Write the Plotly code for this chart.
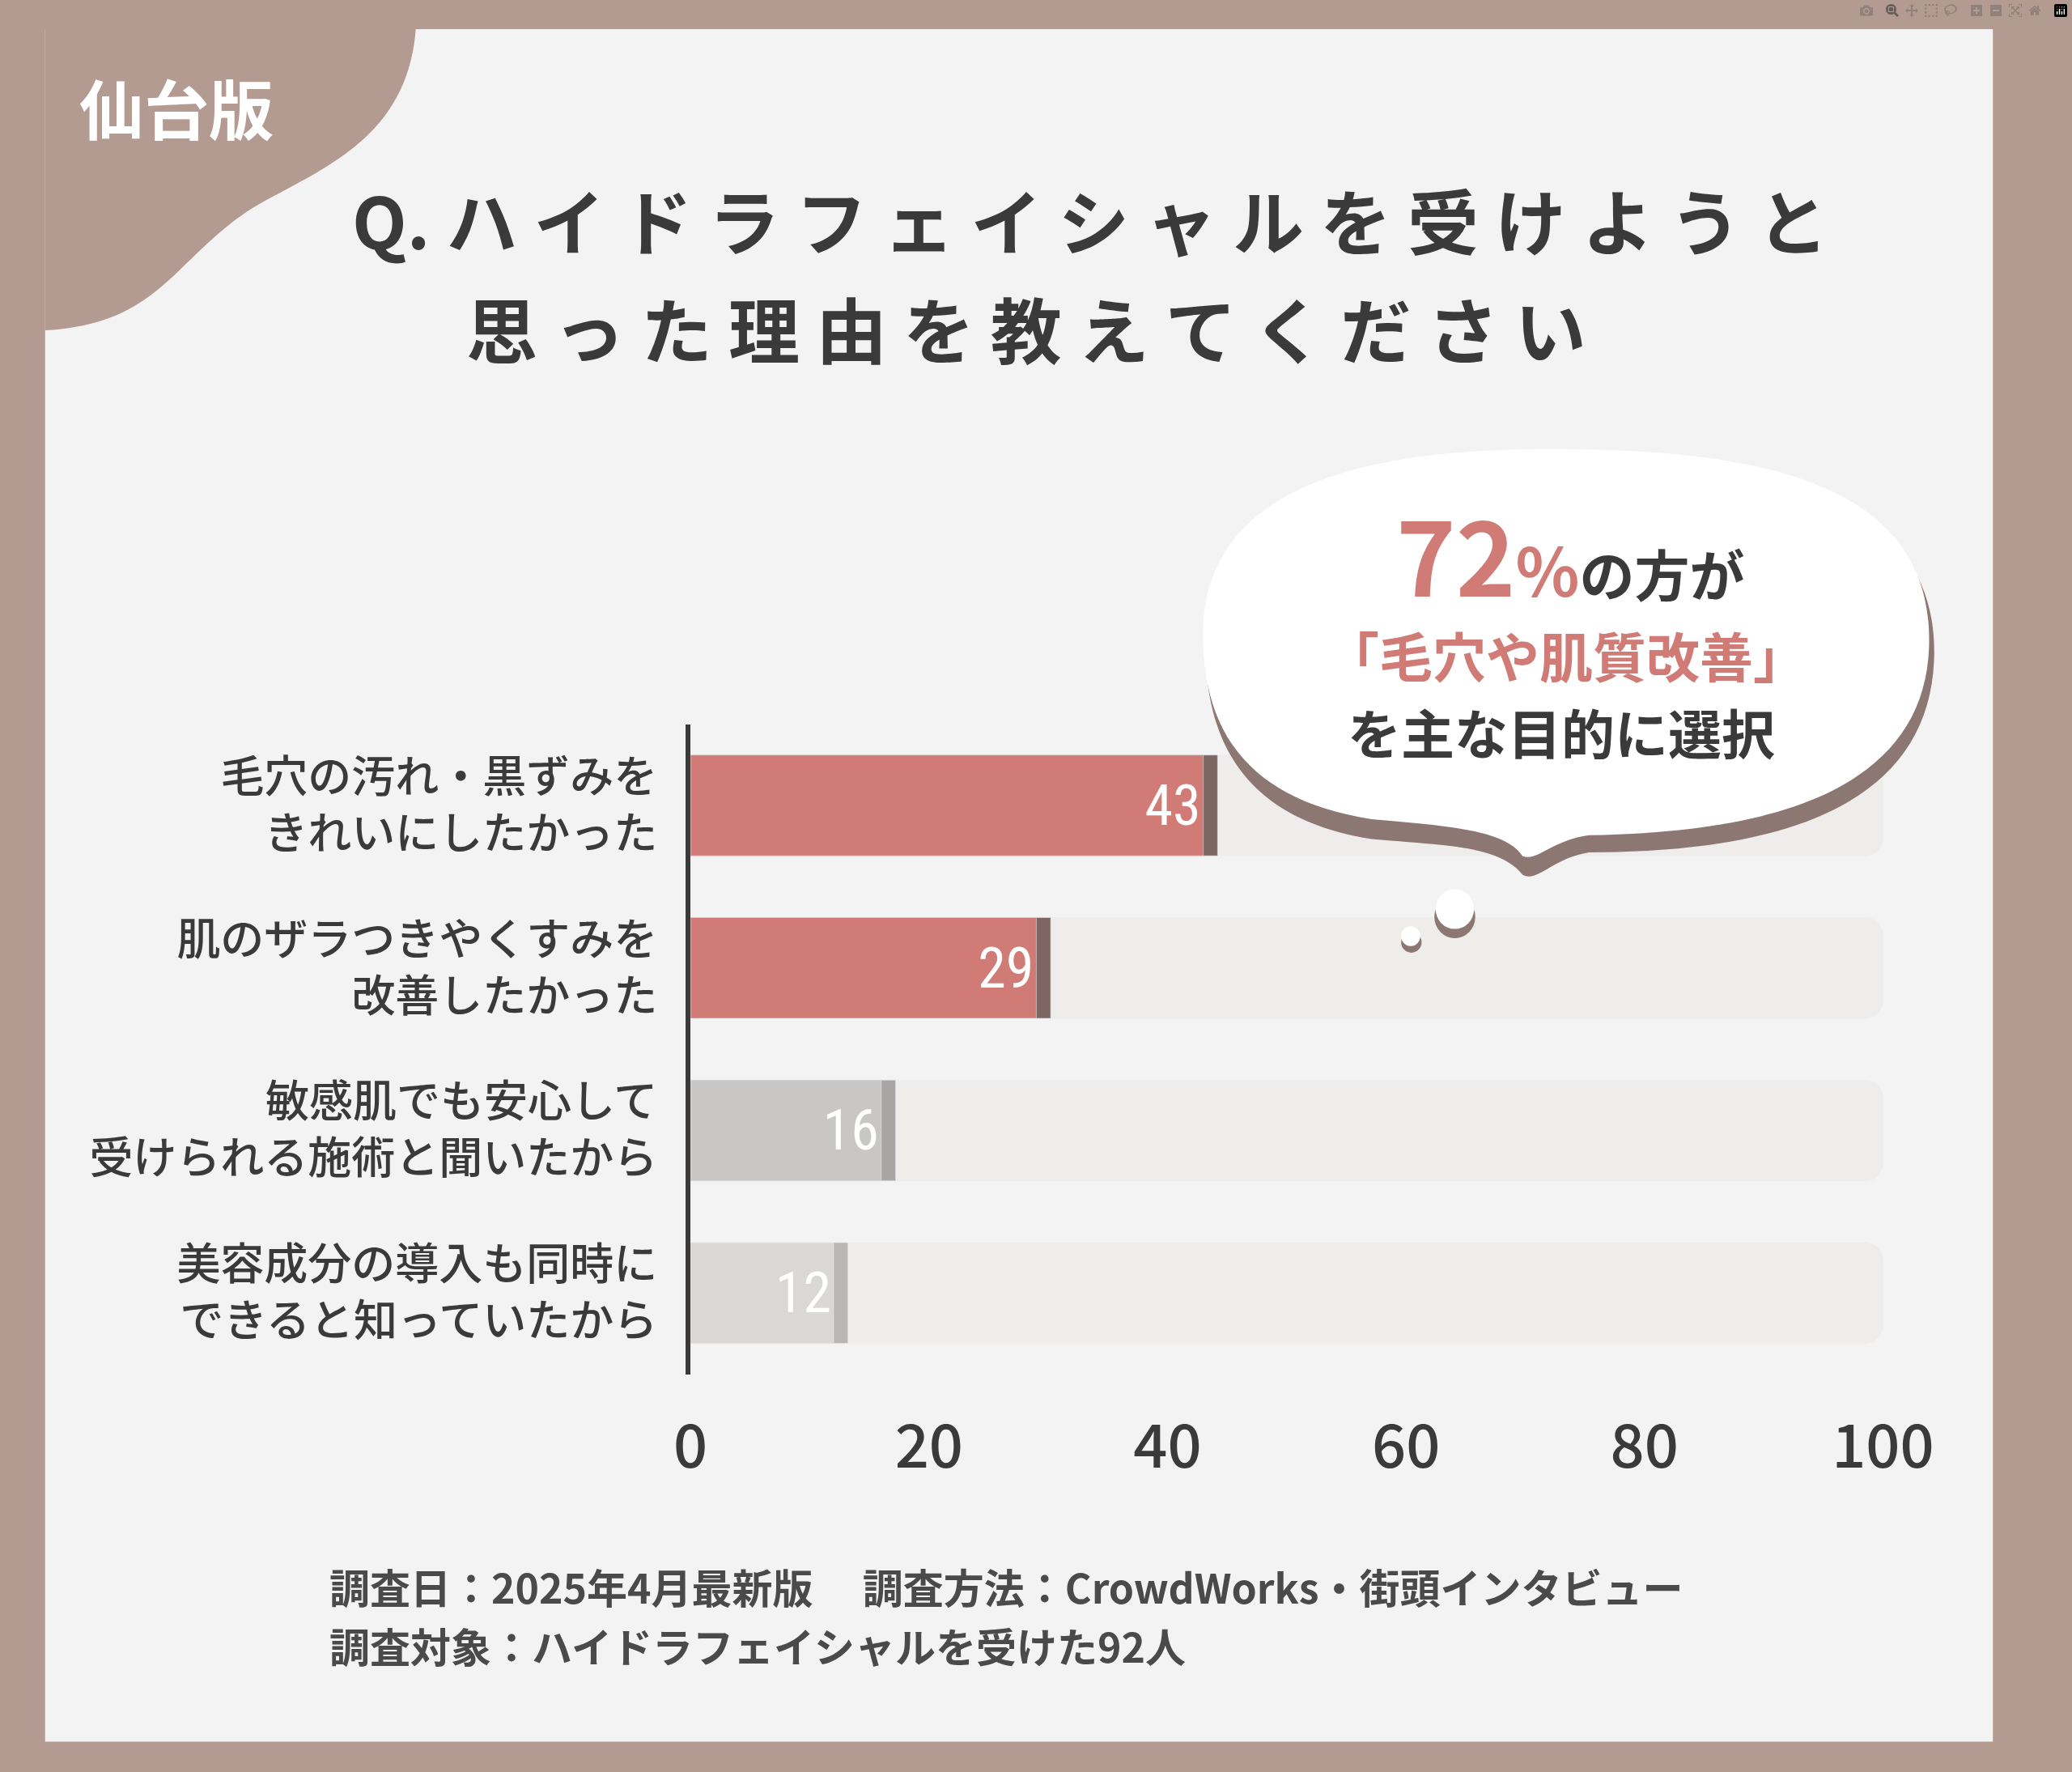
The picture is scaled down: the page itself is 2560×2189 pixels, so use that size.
import plotly.graph_objects as go

categories = [
    "毛穴の汚れ・黒ずみを<br>きれいにしたかった",
    "肌のザラつきやくすみを<br>改善したかった",
    "敏感肌でも安心して<br>受けられる施術と聞いたから",
    "美容成分の導入も同時に<br>できると知っていたから",
]
values = [43, 29, 16, 12]
bar_colors = ["#D07B76", "#D07B76", "#C9C7C6", "#D9D8D7"]
shadow_colors = ["#7E6763", "#7E6763", "#A8A5A4", "#B9B7B6"]
full_scale = [100, 100, 100, 100]
x_ticks = [0, 20, 40, 60, 80, 100]

W, H = 2560, 2189
SW, SH = 1568, 1341  # reference design units
FONT = "Noto Sans CJK JP"


def px(x):
    return x / SW


def py(y):
    return 1 - y / SH


def path(points):
    s = ""
    for cmd, *pts in points:
        s += cmd + " " + " ".join(f"{px(a):.4f},{py(b):.4f}" for a, b in zip(pts[::2], pts[1::2])) + " "
    return s + "Z"


fig = go.Figure()
fig.add_trace(go.Bar(y=categories, x=full_scale, orientation="h", marker=dict(color="#EFEDEC", cornerradius=22),
                     width=0.62, hoverinfo="skip"))
fig.add_trace(go.Bar(y=categories, x=[v + 1.2 for v in values], orientation="h",
                     marker=dict(color=shadow_colors, cornerradius=22), width=0.62, hoverinfo="skip"))
fig.add_trace(go.Bar(y=categories, x=values, orientation="h", marker=dict(color=bar_colors, cornerradius=22),
                     width=0.62, text=[str(v) for v in values], textposition="inside",
                     insidetextanchor="end", textfont=dict(color="white", size=70, family="Roboto Condensed, Roboto"),
                     cliponaxis=False))

shapes = [
    dict(type="rect", xref="paper", yref="paper", x0=px(22), x1=px(1546), y0=py(1318), y1=py(22),
         fillcolor="#F4F3F3", line_width=0, layer="below"),
    dict(type="path", xref="paper", yref="paper", layer="below", fillcolor="#B39B92", line_width=0,
         path=path([("M", 22, 22), ("L", 312, 22), ("C", 305, 110, 230, 130, 180, 160),
                    ("C", 120, 200, 110, 245, 22, 250)])),
    # bubble shadow + bubble
    dict(type="path", xref="paper", yref="paper", layer="above", fillcolor="#8C7772", line_width=0,
         path=path([("M", 930, 490), ("C", 930, 360, 1100, 345, 1220, 348), ("C", 1380, 350, 1505, 380, 1500, 500),
                    ("C", 1495, 610, 1380, 645, 1230, 645), ("C", 1200, 650, 1190, 668, 1178, 662),
                    ("C", 1160, 640, 1120, 640, 1060, 635), ("C", 960, 620, 930, 560, 930, 490)])),
    dict(type="path", xref="paper", yref="paper", layer="above", fillcolor="#FFFFFF", line_width=0,
         path=path([("M", 928, 480), ("C", 928, 350, 1100, 338, 1220, 340), ("C", 1380, 342, 1500, 372, 1496, 490),
                    ("C", 1492, 595, 1380, 630, 1230, 632), ("C", 1200, 636, 1190, 652, 1178, 648),
                    ("C", 1165, 628, 1120, 625, 1060, 620), ("C", 960, 605, 928, 550, 928, 480)])),
    dict(type="circle", xref="paper", yref="paper", layer="above", fillcolor="#8C7772", line_width=0,
         x0=px(1109), x1=px(1141), y0=py(710), y1=py(678)),
    dict(type="circle", xref="paper", yref="paper", layer="above", fillcolor="#FFFFFF", line_width=0,
         x0=px(1110), x1=px(1140), y0=py(703), y1=py(673)),
    dict(type="circle", xref="paper", yref="paper", layer="above", fillcolor="#8C7772", line_width=0,
         x0=px(1083), x1=px(1099), y0=py(721), y1=py(705)),
    dict(type="circle", xref="paper", yref="paper", layer="above", fillcolor="#FFFFFF", line_width=0,
         x0=px(1083), x1=px(1098), y0=py(716), y1=py(701)),
]

ann = [
    dict(text="<b>仙台版</b>", x=px(125), y=py(80), font=dict(size=80, color="white", family=FONT)),
    dict(text="<b>Q. ハ イ ド ラ フ ェ イ シ ャ ル を 受 け よ う と</b>", x=px(840), y=py(165),
         font=dict(size=88, color="#3A3A3A", family=FONT)),
    dict(text="<b>思 っ た 理 由 を 教 え て く だ さ い</b>", x=px(790), y=py(247),
         font=dict(size=88, color="#3A3A3A", family=FONT)),
    dict(text="<b><span style='font-size:125px;color:#D07B76'>72</span><span style='font-size:82px;color:#D07B76'>%</span>の方が</b>",
         x=px(1215), y=py(418), font=dict(size=68, color="#3A3A3A", family=FONT)),
    dict(text="<b>「毛穴や肌質改善」</b>", x=px(1212), y=py(495), font=dict(size=66, color="#D07B76", family=FONT)),
    dict(text="<b>を主な目的に選択</b>", x=px(1208), y=py(553), font=dict(size=66, color="#3A3A3A", family=FONT)),
    dict(text="<b>調査日：2025年4月最新版　 調査方法：CrowdWorks・街頭インタビュー</b>",
         x=px(243), y=py(1200), xanchor="left", font=dict(size=50, color="#4A4A4A", family=FONT)),
    dict(text="<b>調査対象：ハイドラフェイシャルを受けた92人</b>",
         x=px(243), y=py(1245), xanchor="left", font=dict(size=50, color="#4A4A4A", family=FONT)),
]
for a in ann:
    a.setdefault("xanchor", "center")
    a.update(xref="paper", yref="paper", showarrow=False, yanchor="middle")

fig.update_layout(
    width=W, height=H, margin=dict(l=0, r=0, t=0, b=0),
    paper_bgcolor="#B39B92", plot_bgcolor="rgba(0,0,0,0)",
    barmode="overlay", showlegend=False, shapes=shapes, annotations=ann,
    xaxis=dict(domain=[px(527), px(1460)], range=[0, 100], tickvals=x_ticks, showgrid=False, zeroline=False,
               showline=False, tickfont=dict(size=74, color="#3A3A3A", family=FONT, weight=500),
               ticklabelstandoff=40),
    yaxis=dict(domain=[py(1040), py(548)], autorange="reversed", showgrid=False, showline=True,
               linecolor="#3A3A3A", linewidth=6, ticks="", ticklabelstandoff=24,
               tickfont=dict(size=54, color="#3A3A3A", family=FONT, weight=500)),
)

fig.write_html("out.html", post_script="document.body.style.margin='0';document.body.style.overflow='hidden';")
